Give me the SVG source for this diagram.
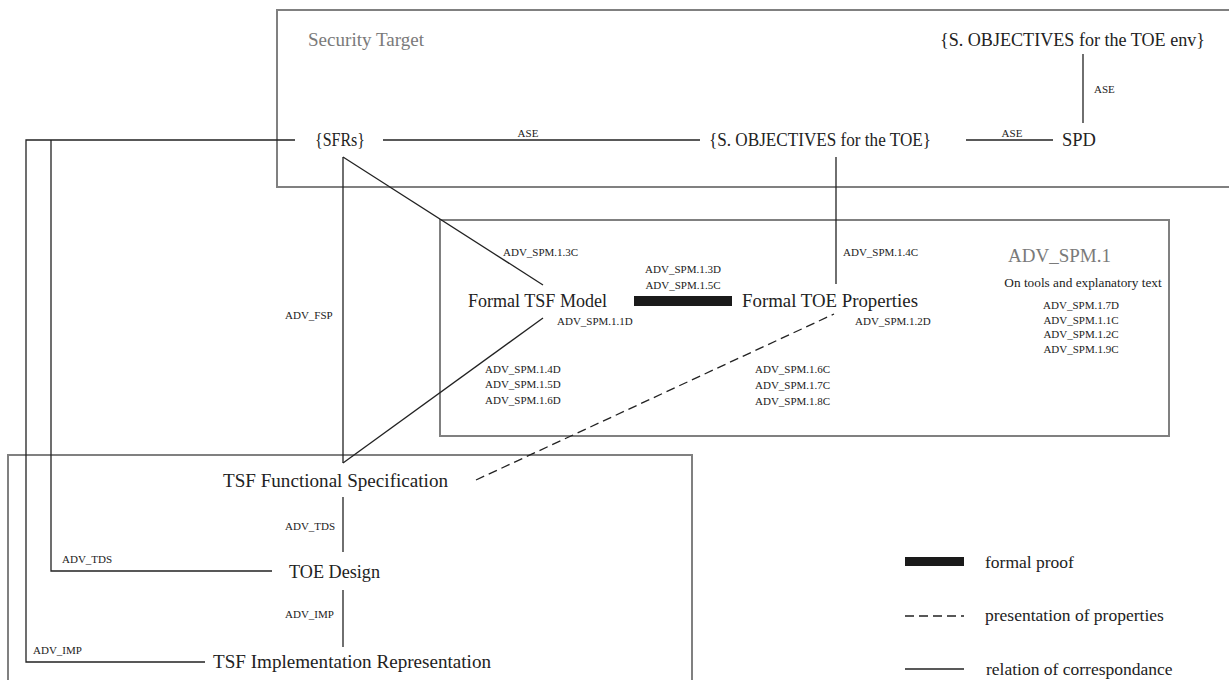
<svg xmlns="http://www.w3.org/2000/svg" width="1229" height="680" viewBox="0 0 1229 680">
<style>
text{font-family:"Liberation Serif","Times New Roman",serif;fill:#222}
.big{font-size:18.5px}
.sm{font-size:11px}
.gray{fill:#7a7a7a}
.box{fill:none;stroke:#808080;stroke-width:2}
.ln{fill:none;stroke:#222;stroke-width:1.3}
.dash{fill:none;stroke:#222;stroke-width:1.3;stroke-dasharray:9 5}
.leg{font-size:17.5px}
</style>
<rect width="1229" height="680" fill="#fff"/>
<g id="security-target">
<rect class="box" x="277" y="10" width="960" height="177"/>
<text class="big gray" x="308" y="46" textLength="116" lengthAdjust="spacingAndGlyphs">Security Target</text>
</g>
<g id="adv-spm-box">
<rect class="box" x="440" y="220" width="729" height="216"/>
<text class="gray" x="1008" y="262" font-size="19">ADV_SPM.1</text>
<text x="1083" y="287" font-size="13.3" text-anchor="middle">On tools and explanatory text</text>
<text class="sm" x="1081" y="309" text-anchor="middle">ADV_SPM.1.7D</text>
<text class="sm" x="1081" y="324" text-anchor="middle">ADV_SPM.1.1C</text>
<text class="sm" x="1081" y="338" text-anchor="middle">ADV_SPM.1.2C</text>
<text class="sm" x="1081" y="353" text-anchor="middle">ADV_SPM.1.9C</text>
</g>
<g id="bottom-box">
<rect class="box" x="8" y="455" width="684" height="240"/>
</g>
<g id="connectors">
<line class="ln" x1="383" y1="140" x2="700" y2="140"/>
<line class="ln" x1="966" y1="140" x2="1053" y2="140"/>
<line class="ln" x1="1083" y1="54" x2="1083" y2="123"/>
<line class="ln" x1="836" y1="157" x2="836" y2="284"/>
<polyline class="ln" points="295,140 26,140 26,662 205,662"/>
<polyline class="ln" points="51,140 51,571 272,571"/>
<line class="ln" x1="343" y1="157" x2="543" y2="285"/>
<line class="ln" x1="343" y1="157" x2="343" y2="463"/>
<line class="ln" x1="343" y1="463" x2="543" y2="318"/>
<line class="dash" x1="476" y1="480" x2="834" y2="314"/>
<line class="ln" x1="343" y1="497" x2="343" y2="552"/>
<line class="ln" x1="343" y1="590" x2="343" y2="647"/>
<rect x="634" y="296" width="98" height="10" fill="#1a1a1a"/>
<text class="sm" x="528" y="137" text-anchor="middle">ASE</text>
<text class="sm" x="1012" y="137" text-anchor="middle">ASE</text>
<text class="sm" x="1094" y="93">ASE</text>
<text class="sm" x="503" y="256">ADV_SPM.1.3C</text>
<text class="sm" x="683" y="273" text-anchor="middle">ADV_SPM.1.3D</text>
<text class="sm" x="683" y="289" text-anchor="middle">ADV_SPM.1.5C</text>
<text class="sm" x="843" y="256">ADV_SPM.1.4C</text>
<text class="sm" x="557" y="325">ADV_SPM.1.1D</text>
<text class="sm" x="855" y="325">ADV_SPM.1.2D</text>
<text class="sm" x="485" y="373">ADV_SPM.1.4D</text>
<text class="sm" x="485" y="388">ADV_SPM.1.5D</text>
<text class="sm" x="485" y="404">ADV_SPM.1.6D</text>
<text class="sm" x="755" y="373">ADV_SPM.1.6C</text>
<text class="sm" x="755" y="389">ADV_SPM.1.7C</text>
<text class="sm" x="755" y="405">ADV_SPM.1.8C</text>
<text class="sm" x="285" y="319">ADV_FSP</text>
<text class="sm" x="285" y="530">ADV_TDS</text>
<text class="sm" x="62" y="563">ADV_TDS</text>
<text class="sm" x="285" y="618">ADV_IMP</text>
<text class="sm" x="33" y="654">ADV_IMP</text>
</g>
<g id="sfrs"><text class="big" x="315" y="146" textLength="50" lengthAdjust="spacingAndGlyphs">{SFRs}</text></g>
<g id="obj-toe"><text class="big" x="709" y="146" textLength="222" lengthAdjust="spacingAndGlyphs">{S. OBJECTIVES for the TOE}</text></g>
<g id="spd"><text class="big" x="1062" y="146">SPD</text></g>
<g id="obj-env"><text class="big" x="940" y="46" textLength="265" lengthAdjust="spacingAndGlyphs">{S. OBJECTIVES for the TOE env}</text></g>
<g id="formal-tsf-model"><text class="big" x="468" y="307" textLength="139" lengthAdjust="spacingAndGlyphs">Formal TSF Model</text></g>
<g id="formal-toe-properties"><text class="big" x="742" y="307" textLength="176" lengthAdjust="spacingAndGlyphs">Formal TOE Properties</text></g>
<g id="tsf-fs"><text class="big" x="223" y="487" textLength="225" lengthAdjust="spacingAndGlyphs">TSF  Functional Specification</text></g>
<g id="toe-design"><text class="big" x="289" y="578" textLength="91" lengthAdjust="spacingAndGlyphs">TOE Design</text></g>
<g id="tsf-impl"><text class="big" x="213" y="668" textLength="278" lengthAdjust="spacingAndGlyphs">TSF Implementation Representation</text></g>
<g id="legend">
<rect x="905" y="557" width="59" height="9" fill="#1a1a1a"/>
<text class="leg" x="985" y="568">formal proof</text>
<line class="dash" x1="905" y1="616" x2="964" y2="616" stroke-dasharray="8 4"/>
<text class="leg" x="985" y="621">presentation of properties</text>
<line class="ln" x1="905" y1="669" x2="964" y2="669"/>
<text class="leg" x="986" y="675">relation of correspondance</text>
</g>
</svg>
